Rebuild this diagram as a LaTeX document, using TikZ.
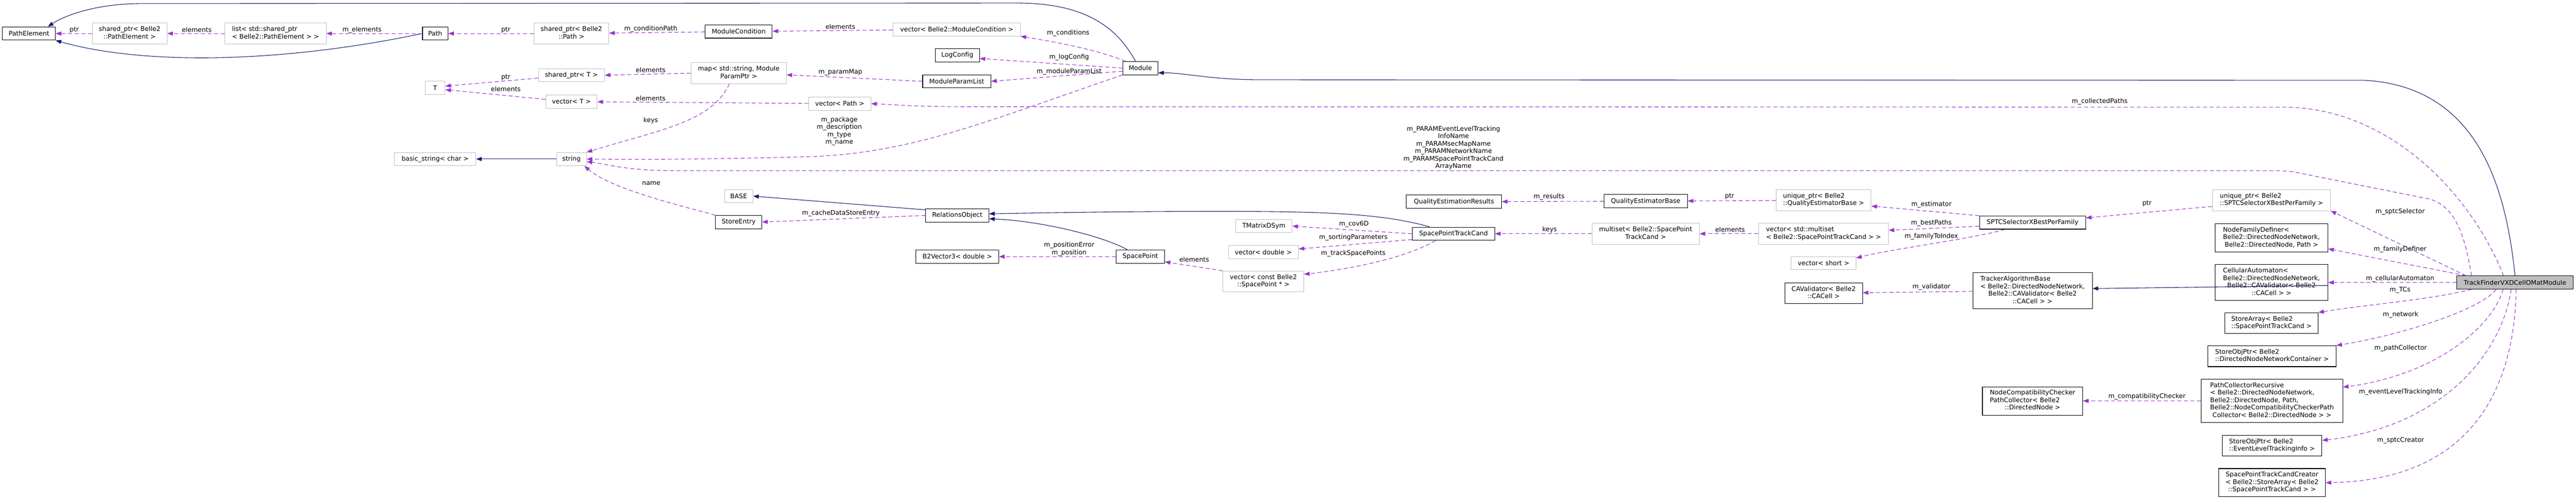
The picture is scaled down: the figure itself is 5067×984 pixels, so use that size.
\documentclass[tikz,border=0pt]{standalone}
\usepackage{fontspec}
\setmainfont{DejaVu Sans}
\usetikzlibrary{arrows.meta}
\definecolor{edgepurple}{RGB}{154,50,205}
\definecolor{inhblue}{RGB}{25,25,112}
\definecolor{boxgray}{RGB}{191,191,191}
\newcommand{\lft}[1]{\multicolumn{1}{@{}l@{}}{#1}}
\newcommand{\boxlines}[1]{\begin{tabular}{@{}c@{}}#1\end{tabular}}
\begin{document}
\begin{tikzpicture}[x=1pt,y=-1pt,font=\fontsize{12.6}{14.7}\selectfont]

      \useasboundingbox (0,0) rectangle (5067,984);

      \begin{scope}[every node/.style={draw, line width=1.1pt, fill=white, inner xsep=8pt, inner ysep=5.8pt, minimum height=26pt}]
        \node[minimum width=104] (1)  at (57,66)    {PathElement};
        \node[minimum width=50]  (4)  at (856,66)   {Path};
        \node[minimum width=132] (6)  at (1453,62)  {ModuleCondition};
        \node[minimum width=87]  (8)  at (1883,109) {LogConfig};
        \node[minimum width=134] (9)  at (1882,160) {ModuleParamList};
        \node[minimum width=69]  (10) at (2243,134) {Module};
        \node[minimum width=91]  (19) at (1453,437) {StoreEntry};
        \node[minimum width=124] (20) at (1883,424) {RelationsObject};
        \node[minimum width=163] (21) at (1883,505) {B2Vector3< double >};
        \node[minimum width=95]  (22) at (2243,505) {SpacePoint};
        \node[minimum width=162] (26) at (2859,460) {SpacePointTrackCand};
        \node[minimum width=187] (27) at (2860,397) {QualityEstimationResults};
        \node[minimum width=164] (28) at (3237,396) {QualityEstimatorBase};
        \node[minimum width=153] (33) at (3587,577) {\boxlines{CAValidator< Belle2\\::CACell >}};
        \node[minimum width=209] (34) at (3998,438) {SPTCSelectorXBestPerFamily};
        \node[minimum width=235] (35) at (3998,572) {\boxlines{\lft{TrackerAlgorithmBase}\\< Belle2::DirectedNodeNetwork,\\ Belle2::CAValidator< Belle2\\::CACell > >}};
        \node[minimum width=222] (37) at (4468,468) {\boxlines{\lft{NodeFamilyDefiner<}\\ Belle2::DirectedNodeNetwork,\\ Belle2::DirectedNode, Path >}};
        \node[minimum width=222] (38) at (4468,556) {\boxlines{\lft{CellularAutomaton<}\\ Belle2::DirectedNodeNetwork,\\ Belle2::CAValidator< Belle2\\::CACell > >}};
        \node[minimum width=229, fill=boxgray] (39) at (4947,556) {TrackFinderVXDCellOMatModule};
        \node[minimum width=183] (40) at (4468,636) {\boxlines{\lft{StoreArray< Belle2}\\::SpacePointTrackCand >}};
        \node[minimum width=252] (41) at (4469,701) {\boxlines{\lft{StoreObjPtr< Belle2}\\::DirectedNodeNetworkContainer >}};
        \node[minimum width=278] (42) at (4469,789) {\boxlines{\lft{PathCollectorRecursive}\\\lft{< Belle2::DirectedNodeNetwork,}\\\lft{Belle2::DirectedNode, Path,}\\Belle2::NodeCompatibilityCheckerPath\\Collector< Belle2::DirectedNode > >}};
        \node[minimum width=197] (43) at (3998,789) {\boxlines{NodeCompatibilityChecker\\\lft{PathCollector< Belle2}\\::DirectedNode >}};
        \node[minimum width=196] (44) at (4469,877) {\boxlines{\lft{StoreObjPtr< Belle2}\\::EventLevelTrackingInfo >}};
        \node[minimum width=210] (45) at (4469,950) {\boxlines{SpacePointTrackCandCreator\\< Belle2::StoreArray< Belle2\\::SpacePointTrackCand > >}};
      \end{scope}

      \begin{scope}[every node/.style={draw=boxgray, line width=1pt, fill=white, inner xsep=8pt, inner ysep=5.8pt, minimum height=26pt}]
        \node[minimum width=147] (2)  at (255,66)   {\boxlines{shared\_ptr< Belle2\\::PathElement >}};
        \node[minimum width=199] (3)  at (542,66)   {\boxlines{\lft{list< std::shared\_ptr}\\< Belle2::PathElement > >}};
        \node[minimum width=147] (5)  at (1124,66)  {\boxlines{shared\_ptr< Belle2\\::Path >}};
        \node[minimum width=250] (7)  at (1882,58)  {vector< Belle2::ModuleCondition >};
        \node[minimum width=187] (11) at (1453,144) {\boxlines{map< std::string, Module\\ParamPtr >}};
        \node[minimum width=130] (12) at (1124,148) {shared\_ptr< T >};
        \node[minimum width=101] (13) at (1124,200) {vector< T >};
        \node[minimum width=39]  (14) at (856,173)  {T};
        \node[minimum width=122] (15) at (1652,204) {vector< Path >};
        \node[minimum width=160] (16) at (856,313)  {basic\_string< char >};
        \node[minimum width=59]  (17) at (1124,313) {string};
        \node[minimum width=56]  (18) at (1453,386) {BASE};
        \node[minimum width=111] (23) at (2486,445) {TMatrixDSym};
        \node[minimum width=138] (24) at (2485,496) {vector< double >};
        \node[minimum width=159] (25) at (2485,554) {\boxlines{vector< const Belle2\\::SpacePoint * >}};
        \node[minimum width=187] (29) at (3587,394) {\boxlines{\lft{unique\_ptr< Belle2}\\::QualityEstimatorBase >}};
        \node[minimum width=211] (30) at (3237,460) {\boxlines{multiset< Belle2::SpacePoint\\TrackCand >}};
        \node[minimum width=255] (31) at (3587,460) {\boxlines{\lft{vector< std::multiset}\\< Belle2::SpacePointTrackCand > >}};
        \node[minimum width=127] (32) at (3587,518) {vector< short >};
        \node[minimum width=232] (36) at (4468,394) {\boxlines{\lft{unique\_ptr< Belle2}\\::SPTCSelectorXBestPerFamily >}};
      \end{scope}

      \begin{scope}[heir/.style={draw=inhblue, line width=1.1pt, -{Triangle[length=11pt,width=8pt]}}, every edge/.style={heir}]
        \draw[heir] (10.125) .. controls (2195,50) and (2130,6) .. (2000,6) -- (280,7) .. controls (180,7) and (120,35) .. (1.20);
        \draw[heir] (4.west) .. controls (550,125) and (280,128) .. (1.south east);
        \draw[heir] (39.north) .. controls (4930,380) and (4880,170) .. (4650,158) -- (2480,157) .. controls (2380,157) and (2330,143) .. (10.-15);
        \draw[heir] (26.164) .. controls (2720,420) and (2600,416) .. (2400,416) .. controls (2200,416) and (2050,419) .. (20.3);
        \draw[heir] (22.152) .. controls (2170,465) and (2050,435) .. (20.-6);
        \path (17)     edge (16);
        \path (20.170) edge (18.east);
        \path (38.-3)  edge (35.2);
      \end{scope}

      \begin{scope}[member/.style={draw=edgepurple, line width=1.1pt, dash pattern=on 8pt off 5pt, -{Triangle[length=11pt,width=8pt]}}, every edge/.style={member}]
        \path (2)  edge (1);
        \path (3)  edge (2);
        \path (4)  edge (3);
        \path (5)  edge (4);
        \path (6)  edge (5);
        \path (7)  edge (6);
        \draw[member] (10.155) .. controls (2150,95) and (2060,80) .. (7.south east);
        \path (10.west) edge (8.-8);
        \path (10.-170) edge (9.east);
        \path (9.west) edge (11.-2);
        \path (11.west) edge (12.east);
        \path (12.-175) edge (14.10);
        \path (13.175) edge (14.-10);
        \path (15) edge (13);
        \draw[member] (11.-131) .. controls (1400,240) and (1300,255) .. (17.north east);
        \draw[member] (10.south west) .. controls (1950,235) and (1800,300) .. (1600,308) .. controls (1400,314) and (1250,314) .. (17.east);
        \draw[member] (39.171) .. controls (4845,440) and (4820,405) .. (4780,392) -- (4510,338) .. controls (4490,336) .. (4460,336) -- (1330,336) .. controls (1230,336) and (1190,322) .. (17.-10);
        \draw[member] (19.north west) .. controls (1320,400) and (1200,370) .. (17.-28);
        \path (20.west) edge (19.east);
        \path (22) edge (21);
        \path (25.north west) edge (22.-12);
        \path (26.west) edge (23.east);
        \path (26.-172) edge (24.5);
        \draw[member] (26.-159) .. controls (2760,510) and (2650,530) .. (25.10);
        \path (30) edge (26);
        \path (31) edge (30);
        \path (34.184) edge (31.3);
        \draw[member] (34.-166) .. controls (3880,470) and (3720,490) .. (32.9);
        \path (34.north west) edge (29.-7);
        \path (29) edge (28);
        \path (28) edge (27);
        \path (36.186) edge (34.5);
        \path (39.172) edge (36.south east);
        \path (39.172) edge (37.-11);
        \path (39) edge (38);
        \draw[member] (39.-171) .. controls (4780,590) and (4650,600) .. (40.north east);
        \draw[member] (39.-160) .. controls (4880,610) and (4720,660) .. (41.north east);
        \draw[member] (39.-150) .. controls (4900,650) and (4780,740) .. (42.11);
        \draw[member] (39.-119) .. controls (4920,700) and (4800,840) .. (44.6);
        \draw[member] (39.-80) .. controls (4945,780) and (4850,945) .. (45.east);
        \path (42) edge (43);
        \path (35) edge (33);
        \draw[member] (39.149) .. controls (4860,380) and (4700,215) .. (4500,211) -- (1900,210) .. controls (1800,210) and (1760,206) .. (15.east);
      \end{scope}

      \begin{scope}[every node/.style={inner sep=0pt, align=center}]
        \node (l1)  at (146,59)   {ptr};
        \node (l2)  at (387,59)   {elements};
        \node (l3)  at (712,59)   {m\_elements};
        \node (l4)  at (995,59)   {ptr};
        \node (l5)  at (1280,57)  {m\_conditionPath};
        \node (l6)  at (1653,53)  {elements};
        \node (l7)  at (2101,65)  {m\_conditions};
        \node (l8)  at (2103,113) {m\_logConfig};
        \node (l9)  at (2103,141) {m\_moduleParamList};
        \node (l10) at (1653,142) {m\_paramMap};
        \node (l11) at (1280,138) {elements};
        \node (l12) at (995,152)  {ptr};
        \node (l13) at (995,175)  {elements};
        \node (l14) at (1280,193) {elements};
        \node (l15) at (1280,237) {keys};
        \node (l16) at (1651,258) {m\_package\\m\_description\\m\_type\\m\_name};
        \node (l17) at (2859,291) {m\_PARAMEventLevelTracking\\InfoName\\m\_PARAMsecMapName\\m\_PARAMNetworkName\\m\_PARAMSpacePointTrackCand\\ArrayName};
        \node (l18) at (1281,361) {name};
        \node (l19) at (1654,420) {m\_cacheDataStoreEntry};
        \node (l20) at (2103,490) {m\_positionError\\m\_position};
        \node (l21) at (2349,511) {elements};
        \node (l22) at (2663,441) {m\_cov6D};
        \node (l23) at (2662,467) {m\_sortingParameters};
        \node (l24) at (2662,499) {m\_trackSpacePoints};
        \node (l25) at (3048,452) {keys};
        \node (l26) at (3403,452) {elements};
        \node (l27) at (3799,439) {m\_bestPaths};
        \node (l28) at (3799,465) {m\_familyToIndex};
        \node (l29) at (3799,403) {m\_estimator};
        \node (l30) at (3402,387) {ptr};
        \node (l31) at (3047,387) {m\_results};
        \node (l32) at (4223,401) {ptr};
        \node (l33) at (4721,417) {m\_sptcSelector};
        \node (l34) at (4721,491) {m\_familyDefiner};
        \node (l35) at (4721,548) {m\_cellularAutomaton};
        \node (l36) at (4721,571) {m\_TCs};
        \node (l37) at (4722,619) {m\_network};
        \node (l38) at (4722,685) {m\_pathCollector};
        \node (l39) at (4722,771) {m\_eventLevelTrackingInfo};
        \node (l40) at (4722,867) {m\_sptcCreator};
        \node (l41) at (4223,781) {m\_compatibilityChecker};
        \node (l42) at (3799,565) {m\_validator};
        \node (l43) at (4130,200) {m\_collectedPaths};
      \end{scope}

    \end{tikzpicture}
\end{document}
